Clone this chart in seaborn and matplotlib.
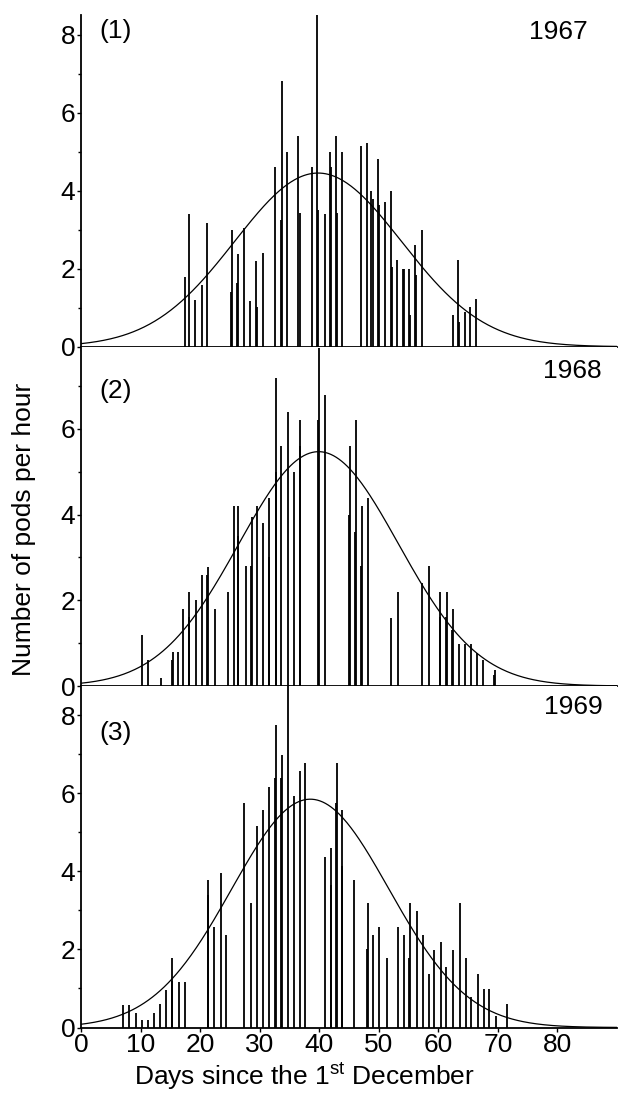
#
# Seasonal pod fall for three years, one panel per year.
# Bars are the counts per hour on each day, the smooth curve is the
# fitted normal curve for that year.

import numpy as np
import pandas as pd
import matplotlib
matplotlib.use("Agg")
import matplotlib.pyplot as plt
import seaborn as sns

sns.set_theme(style="ticks")
plt.rcParams['font.family'] = ['Liberation Sans', 'DejaVu Sans']
plt.rcParams['mathtext.fontset'] = 'custom'
plt.rcParams['mathtext.rm'] = 'Liberation Sans'
plt.rcParams['text.color'] = 'black'

# 1967
days_1967 = [17.4, 18.1, 19.2, 20.3, 21.2, 25.2, 25.4, 26.2, 26.4, 27.4, 28.4, 29.4, 29.6,
             30.5, 32.5, 33.6, 33.7, 34.6, 36.5, 36.8, 38.8, 39.6, 39.8, 40.9, 41.8, 42.0,
             42.8, 43.0, 43.9, 47.0, 48.0, 48.7, 49.0, 49.8, 50.1, 51.0, 52.0, 52.2, 53.1,
             54.1, 54.3, 55.1, 55.3, 56.1, 56.3, 57.3, 62.5, 63.3, 63.4, 64.4, 65.4, 66.4]
pods_1967 = [1.79, 3.40, 1.20, 1.58, 3.18, 1.41, 2.99, 1.63, 2.38, 3.04, 1.17, 2.20, 1.03,
             2.40, 4.60, 3.25, 6.80, 5.00, 5.40, 3.43, 4.60, 8.60, 3.50, 3.40, 5.00, 4.60,
             5.40, 3.43, 5.00, 5.15, 5.22, 4.00, 3.79, 4.80, 3.63, 3.70, 4.00, 2.05, 2.22,
             2.00, 2.00, 2.00, 0.80, 2.60, 1.84, 3.00, 0.80, 2.22, 0.64, 0.90, 1.03, 1.22]

# 1968
days_1968 = [10.3, 11.3, 13.4, 15.3, 15.4, 16.3, 17.2, 18.1, 18.2, 19.3, 20.3, 21.2, 21.3,
             22.5, 24.6, 25.7, 26.3, 26.4, 27.7, 28.6, 28.7, 29.5, 30.6, 31.5, 31.6, 32.7,
             32.8, 33.6, 34.7, 35.7, 36.7, 36.8, 39.8, 39.9, 40.9, 45.0, 45.1, 46.0, 46.1,
             47.0, 47.1, 48.2, 52.1, 53.3, 57.3, 58.4, 60.2, 60.3, 61.3, 61.4, 62.3, 62.4,
             63.5, 64.4, 65.5, 66.5, 67.5, 69.4, 69.5]
pods_1968 = [1.19, 0.60, 0.18, 0.60, 0.80, 0.80, 1.80, 1.60, 2.20, 2.00, 2.58, 2.58, 2.78,
             1.80, 2.20, 4.20, 3.50, 4.20, 2.80, 2.80, 3.95, 4.20, 3.80, 3.00, 4.40, 5.00,
             7.20, 5.60, 6.40, 5.00, 5.60, 6.20, 6.20, 7.90, 6.80, 4.00, 5.60, 3.60, 6.20,
             2.80, 4.20, 4.40, 1.58, 2.20, 2.40, 2.80, 1.60, 2.20, 1.60, 2.20, 1.30, 1.80,
             0.98, 0.98, 0.98, 0.78, 0.60, 0.25, 0.37]

# 1969
days_1969 = [7.1, 8.0, 9.2, 10.2, 11.2, 12.2, 13.3, 14.3, 15.2, 15.3, 16.4, 17.4, 21.3,
             21.4, 22.4, 23.5, 24.4, 27.4, 28.5, 29.5, 30.6, 31.6, 32.6, 32.7, 33.6, 33.7,
             34.7, 35.7, 36.7, 37.6, 41.0, 41.9, 42.0, 42.9, 43.0, 43.8, 43.9, 45.9, 48.1,
             48.2, 49.0, 50.1, 51.4, 53.3, 54.2, 55.1, 55.2, 56.4, 57.4, 58.5, 59.3, 60.5,
             61.3, 62.4, 63.6, 64.6, 65.5, 66.6, 67.6, 68.5, 69.6, 71.6]
pods_1969 = [0.58, 0.58, 0.36, 0.18, 0.18, 0.36, 0.60, 0.96, 1.20, 1.77, 1.17, 1.17, 3.40,
             3.78, 2.57, 3.97, 2.37, 5.75, 3.18, 5.17, 5.58, 6.17, 6.40, 7.76, 6.40, 6.99,
             8.75, 5.94, 6.58, 6.77, 4.38, 3.66, 4.60, 5.75, 6.77, 4.15, 5.58, 3.78, 2.00,
             3.18, 2.37, 2.57, 1.77, 2.57, 2.37, 1.77, 3.18, 2.99, 2.37, 1.37, 1.99, 2.18,
             1.56, 1.99, 3.18, 1.77, 0.79, 1.37, 0.98, 0.98, 0.30, 0.60]

years = ["1967", "1968", "1969"]
panel_labels = ["(1)", "(2)", "(3)"]
# fitted normal curve: peak height, mean day, sd in days
curve_peak = [4.45, 5.47, 5.85]
curve_mean = [39.8, 39.9, 38.5]
curve_sd = [14.0, 13.4, 13.2]
y_tops = [8.5, 7.92, 8.75]

df = pd.concat([
    pd.DataFrame({"year": "1967", "day": days_1967, "pods": pods_1967}),
    pd.DataFrame({"year": "1968", "day": days_1968, "pods": pods_1968}),
    pd.DataFrame({"year": "1969", "day": days_1969, "pods": pods_1969}),
])

W, H = 620, 1093
fig, axes = plt.subplots(3, 1, figsize=(W / 100, H / 100), dpi=100, sharex=True,
                         gridspec_kw=dict(hspace=0, height_ratios=[331.7, 339.3, 341.5]))
fig.subplots_adjust(left=81 / W, right=617 / W, top=1 - 15 / H, bottom=1 - 1027.5 / H)

fs = 19
xs = np.linspace(0, 90, 400)
for i, ax in enumerate(axes):
    yr = years[i]
    sub = df[df["year"] == yr]
    ax.vlines(sub["day"], 0, sub["pods"], color="black", lw=1.3, zorder=3)
    fit = curve_peak[i] * np.exp(-0.5 * ((xs - curve_mean[i]) / curve_sd[i]) ** 2)
    sns.lineplot(x=xs, y=fit, ax=ax, color="black", lw=0.9, zorder=4)

    ax.set_xlim(0, 90)
    ax.set_ylim(0, y_tops[i])
    ax.set_yticks([t for t in [0, 2, 4, 6, 8] if t < y_tops[i] - 0.1])
    ax.set_yticks([1, 3, 5, 7], minor=True)
    ax.set_xticks(range(0, 90, 10))
    sns.despine(ax=ax)
    for sp in ["left", "bottom"]:
        ax.spines[sp].set_linewidth(1.3)
        ax.spines[sp].set_color("black")
    ax.tick_params(axis="y", which="major", length=3, width=1, labelsize=fs, pad=1, colors="black")
    ax.tick_params(axis="y", which="minor", length=2, width=1, colors="black")
    ax.tick_params(axis="x", length=3, width=1, labelsize=fs, pad=1, colors="black")
    ax.set_xlabel("")
    ax.set_ylabel("")

    ax.text(0.035, [0.952, 0.869, 0.862][i], panel_labels[i], transform=ax.transAxes,
            ha="left", va="center", fontsize=fs, color="black")
    ax.text([0.946, 0.972, 0.974][i], [0.949, 0.928, 0.9385][i], yr, transform=ax.transAxes,
            ha="right", va="center", fontsize=fs, color="black")

fig.text(24 / W, 1 - 529 / H, "Number of pods per hour", rotation=90,
         ha="center", va="center", fontsize=fs, color="black")
fig.text(304 / W, 1 - 1076 / H, "Days since the 1$^{\\mathrm{st}}$ December",
         ha="center", va="center", fontsize=fs, color="black")

plt.savefig("out.png", dpi=100)
